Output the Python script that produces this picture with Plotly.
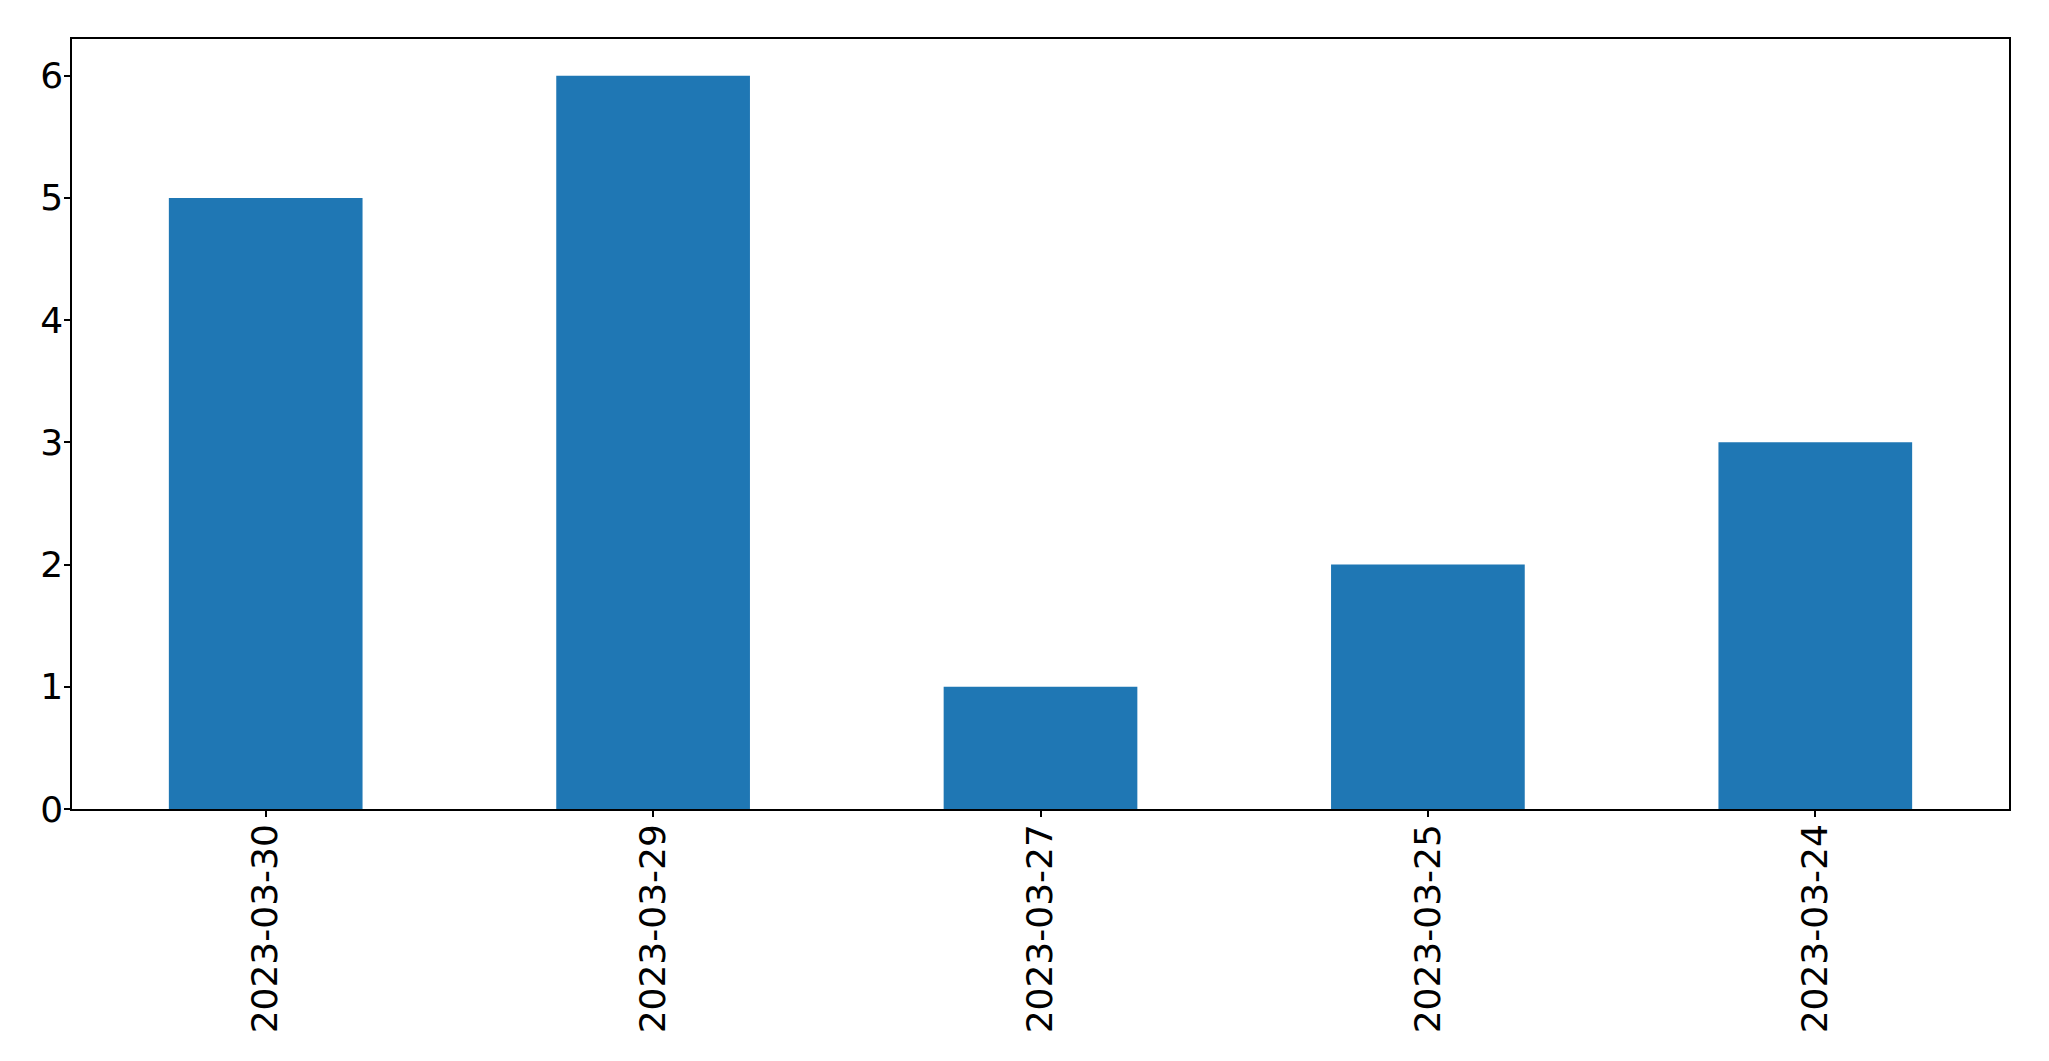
import plotly.graph_objects as go

dates = ["2023-03-30", "2023-03-29", "2023-03-27", "2023-03-25", "2023-03-24"]
counts = [5, 6, 1, 2, 3]
y_ticks = [0, 1, 2, 3, 4, 5, 6]

fig = go.Figure(go.Bar(x=dates, y=counts, marker=dict(color="#1f77b4", line=dict(width=0)), width=0.5))

font = dict(family="DejaVu Sans", size=36, color="black")
fig.update_layout(
    width=2049, height=1061,
    margin=dict(l=72, r=40, t=39, b=252, autoexpand=False),
    paper_bgcolor="white", plot_bgcolor="white",
    showlegend=False,
)
fig.update_xaxes(
    type="category", range=[-0.5, 4.5], automargin=False,
    showline=True, linecolor="black", linewidth=1.5, mirror=True,
    ticks="outside", ticklen=6, tickwidth=1.5, tickcolor="black",
    tickangle=-90, tickfont=font, showgrid=False, ticklabelstandoff=-7,
)
fig.update_yaxes(
    range=[0, 6.3], tickvals=y_ticks, automargin=False,
    showline=True, linecolor="black", linewidth=1.5, mirror=True,
    ticks="outside", ticklen=6, tickwidth=1.5, tickcolor="black",
    tickfont=font, showgrid=False, zeroline=False, ticklabelstandoff=-6,
)
fig.write_html(
    "out.html",
    config={"displayModeBar": False},
    post_script="document.body.style.margin='0';document.body.style.overflow='hidden';",
)
